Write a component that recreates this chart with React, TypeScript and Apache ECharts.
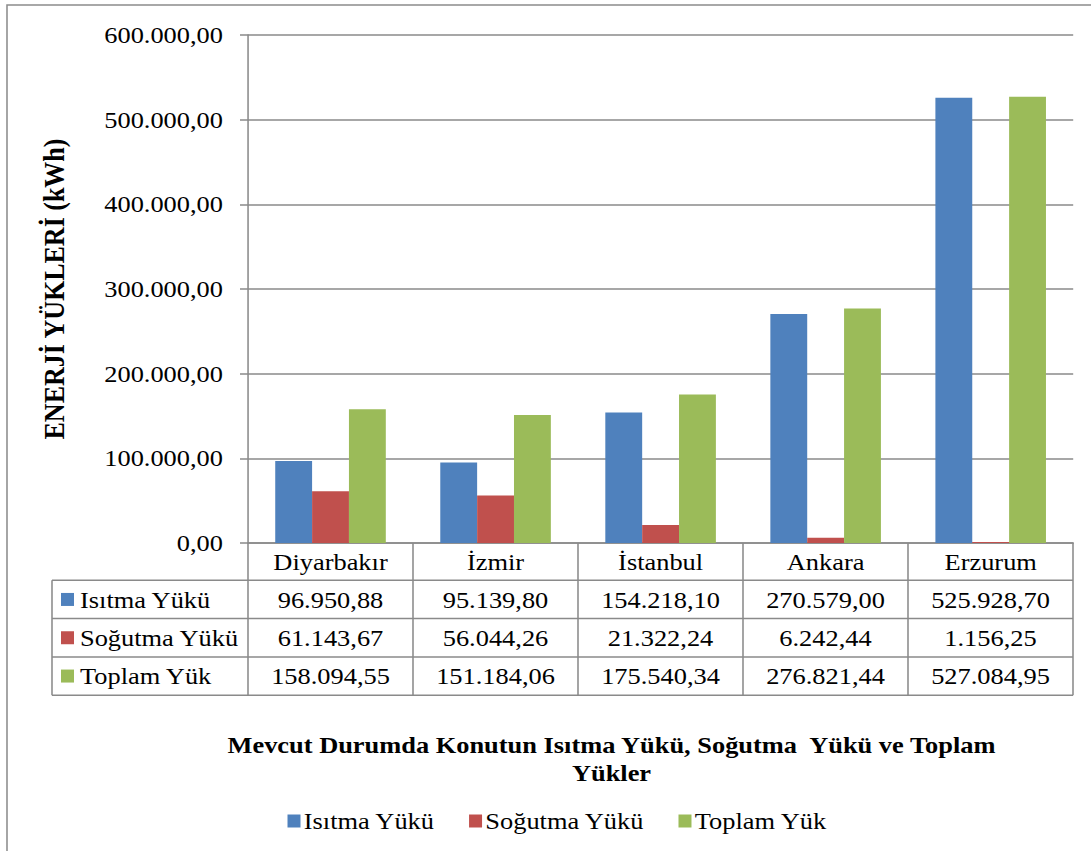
import React, { useEffect, useRef } from "react";
import * as echarts from "echarts";

// Cities and the three energy load series (kWh)
const cities = ["Diyarbakır", "İzmir", "İstanbul", "Ankara", "Erzurum"];
const isitmaYuku = [96950.88, 95139.8, 154218.1, 270579.0, 525928.7];
const sogutmaYuku = [61143.67, 56044.26, 21322.24, 6242.44, 1156.25];
const toplamYuk = [158094.55, 151184.06, 175540.34, 276821.44, 527084.95];

const seriesNames = ["Isıtma Yükü", "Soğutma Yükü", "Toplam Yük"];
const seriesColors = ["#4F81BD", "#C0504D", "#9BBB59"];
const seriesData = [isitmaYuku, sogutmaYuku, toplamYuk];

const yMax = 600000;
const yStep = 100000;

const FONT = "Liberation Serif";
const LINE = "#8A8A8A";

// Turkish number style: 1.234.567,89
function trNumber(v: number): string {
  const [intPart, dec] = v.toFixed(2).split(".");
  const grouped = intPart.replace(/\B(?=(\d{3})+(?!\d))/g, ".");
  return `${grouped},${dec}`;
}

// The chart is drawn narrower and widened by STRETCH, giving the wide serif look.
const STRETCH = 1.1;
const PAGE_W = 1091;
const H = 851;
const W = PAGE_W / STRETCH;
const sx = (x: number) => x / STRETCH;

// Layout of the plot area and data table (page pixels)
const gridLeft = sx(248);
const gridRight = sx(1073);
const gridTop = 35;
const gridBottom = 543;
const tableLeft = sx(52);
const rowH = 38.3;
const headerBottom = 580.3;

export default function App() {
  const ref = useRef<HTMLDivElement>(null);

  useEffect(() => {
    document.body.style.margin = "0";
    if (!ref.current) return;
    const chart = echarts.init(ref.current, null, { renderer: "svg" });

    const colW = (gridRight - gridLeft) / cities.length;
    const tableBottom = headerBottom + rowH * seriesNames.length;
    const hLine = { stroke: LINE, lineWidth: 1.5 };
    const vLine = { stroke: LINE, lineWidth: 1.4 };

    const graphics: any[] = [];
    // outer chart frame
    graphics.push({
      type: "rect",
      shape: { x: sx(7), y: 5, width: W + 20, height: H + 20 },
      style: { fill: "none", stroke: "#8C8C8C", lineWidth: 1.4 },
      silent: true,
    });
    // horizontal table lines
    for (let r = 0; r <= seriesNames.length; r++) {
      const y = headerBottom + r * rowH;
      graphics.push({
        type: "line",
        shape: { x1: tableLeft, y1: y, x2: gridRight, y2: y },
        style: hLine,
        silent: true,
      });
    }
    // vertical table lines
    graphics.push({
      type: "line",
      shape: { x1: tableLeft, y1: headerBottom, x2: tableLeft, y2: tableBottom },
      style: vLine,
      silent: true,
    });
    for (let c = 0; c <= cities.length; c++) {
      const x = gridLeft + c * colW;
      graphics.push({
        type: "line",
        shape: { x1: x, y1: gridBottom, x2: x, y2: tableBottom },
        style: vLine,
        silent: true,
      });
    }
    // row headers with legend keys, and cell values
    seriesNames.forEach((name, r) => {
      const cy = headerBottom + r * rowH + rowH / 2;
      graphics.push({
        type: "rect",
        shape: { x: sx(61), y: cy - 6.5, width: sx(13), height: 13 },
        style: { fill: seriesColors[r] },
        silent: true,
      });
      graphics.push({
        type: "text",
        x: sx(80),
        y: cy,
        style: {
          text: name,
          fontFamily: FONT,
          fontSize: 24,
          fill: "#000",
          align: "left",
          verticalAlign: "middle",
        },
        silent: true,
      });
      seriesData[r].forEach((v, c) => {
        graphics.push({
          type: "text",
          x: gridLeft + c * colW + colW / 2,
          y: cy,
          style: {
            text: trNumber(v),
            fontFamily: FONT,
            fontSize: 24,
            fill: "#000",
            align: "center",
            verticalAlign: "middle",
          },
          silent: true,
        });
      });
    });

    chart.setOption({
      animation: false,
      backgroundColor: "#fff",
      textStyle: { fontFamily: FONT },
      title: {
        text: "Mevcut Durumda Konutun Isıtma Yükü, Soğutma  Yükü ve Toplam\nYükler",
        left: sx(606),
        top: 726,
        textAlign: "center",
        textStyle: {
          fontFamily: FONT,
          fontSize: 24,
          fontWeight: "bold",
          color: "#000",
          lineHeight: 28,
        },
      },
      legend: {
        data: seriesNames,
        left: sx(282),
        top: 804,
        itemWidth: sx(13),
        itemHeight: 13,
        itemGap: sx(34),
        icon: "rect",
        textStyle: { fontFamily: FONT, fontSize: 24, color: "#000", padding: [0, 0, 0, -2] },
      },
      grid: {
        left: gridLeft,
        right: W - gridRight,
        top: gridTop,
        bottom: H - gridBottom,
        containLabel: false,
      },
      xAxis: {
        type: "category",
        data: cities,
        axisLine: { show: true, lineStyle: { color: LINE, width: 1.5 } },
        axisTick: { show: false },
        axisLabel: {
          fontFamily: FONT,
          fontSize: 24,
          color: "#000",
          margin: 7,
        },
      },
      yAxis: {
        type: "value",
        min: 0,
        max: yMax,
        interval: yStep,
        name: "ENERJİ YÜKLERİ (kWh)",
        nameLocation: "middle",
        nameGap: 163,
        nameTextStyle: {
          fontFamily: FONT,
          fontSize: 26,
          fontWeight: "bold",
          color: "#000",
        },
        axisLine: { show: true, lineStyle: { color: LINE, width: 1.4 } },
        axisTick: { show: true, length: sx(8), lineStyle: { color: LINE, width: 1.5 } },
        splitLine: { show: true, lineStyle: { color: LINE, width: 1.5 } },
        axisLabel: {
          fontFamily: FONT,
          fontSize: 24,
          color: "#000",
          margin: sx(25),
          formatter: (v: number) => trNumber(v),
        },
      },
      series: seriesNames.map((name, i) => ({
        name,
        type: "bar",
        data: seriesData[i],
        barGap: "0%",
        barCategoryGap: "33%",
        itemStyle: { color: seriesColors[i] },
      })),
      graphic: graphics,
    });

    return () => chart.dispose();
  }, []);

  return (
    <div
      ref={ref}
      style={{
        width: W,
        height: H,
        transform: `scaleX(${STRETCH})`,
        transformOrigin: "0 0",
      }}
    />
  );
}
